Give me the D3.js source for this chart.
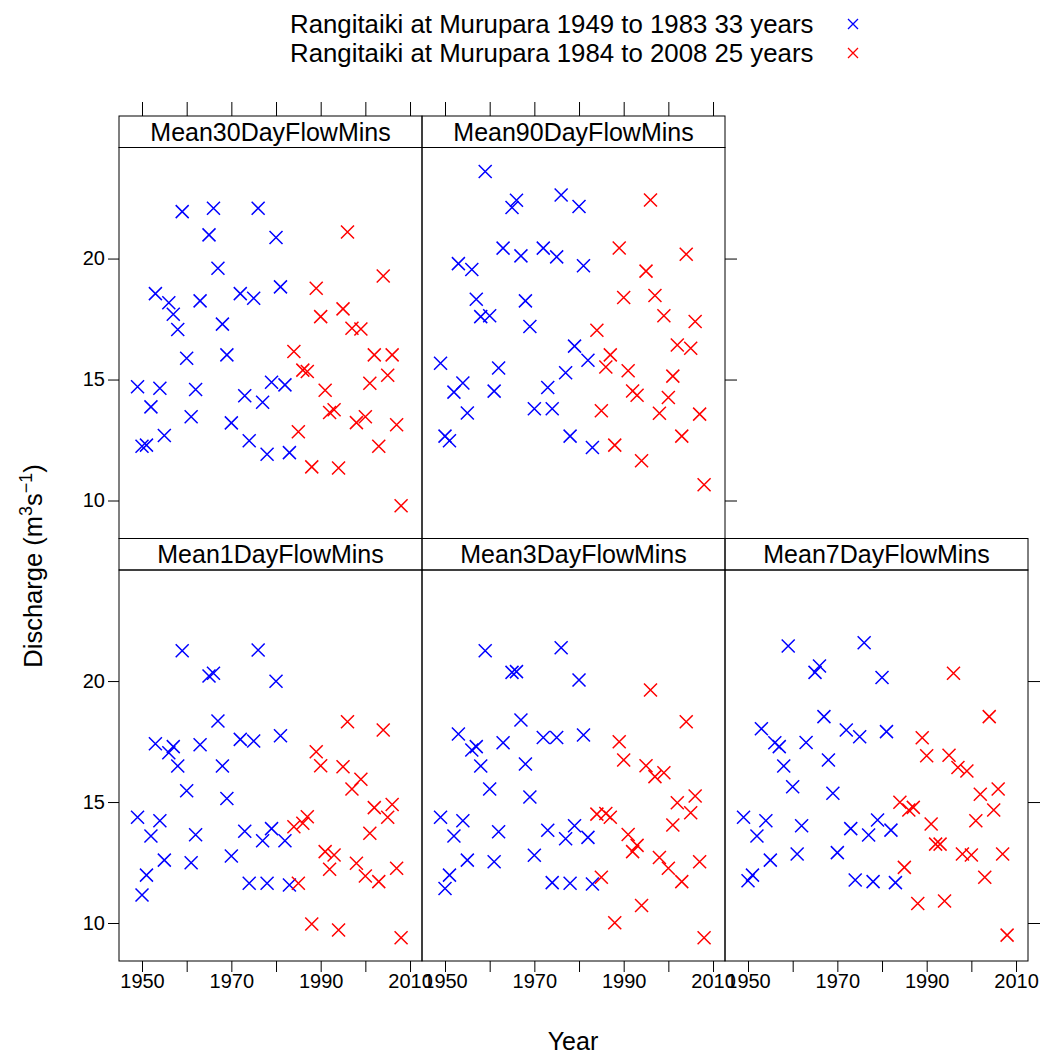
<html>
<head>
<meta charset="utf-8">
<style>
  body { margin: 0; background: #fff; }
  text { font-family: "Liberation Sans", Arial, sans-serif; fill: #000; }
  .frame { fill: none; stroke: #000; stroke-width: 1px; }
  .tick line { stroke: #000; }
</style>
</head>
<body>
<script src="https://d3js.org/d3.v7.min.js"></script>
<script>
// years of each period
var yearsEarly = [1949,1950,1951,1952,1953,1954,1955,1956,1957,1958,1959,1960,1961,1962,1963,
                  1965,1966,1967,1968,1969,1970,1972,1973,1974,1975,1976,1977,1978,1979,1980,1981,1982,1983];
var yearsLate = d3.range(1984, 2009);

var seriesNames = ["Rangitaiki at Murupara 1949 to 1983 33 years",
                   "Rangitaiki at Murupara 1984 to 2008 25 years"];
var seriesColors = ["#0000ff", "#ff0000"];

// panel order as drawn: bottom row left to right, then top row
var panelNames = ["Mean1DayFlowMins", "Mean3DayFlowMins", "Mean7DayFlowMins",
                  "Mean30DayFlowMins", "Mean90DayFlowMins"];

// discharge values (m3/s), early period
var early1  = [14.37,11.16,11.98,13.60,17.41,14.23,12.60,17.04,17.29,16.49,21.25,15.47,12.49,13.65,17.37,
               20.21,20.32,18.35,16.49,15.15,12.77,17.59,13.79,11.64,17.52,21.28,13.40,11.64,13.90,19.99,17.74,13.40,11.57];
var early3  = [14.37,11.43,11.98,13.60,17.81,14.23,12.60,17.15,17.29,16.49,21.25,15.54,12.53,13.77,17.45,
               20.36,20.39,18.39,16.57,15.21,12.80,17.67,13.83,11.67,17.67,21.38,13.48,11.64,14.02,20.04,17.77,13.54,11.61];
var early7  = [14.37,11.75,11.98,13.60,18.03,14.23,12.60,17.45,17.29,16.49,21.45,15.63,12.85,14.02,17.46,
               20.36,20.62,18.53,16.74,15.36,12.91,17.98,13.90,11.78,17.70,21.58,13.64,11.71,14.26,20.15,17.91,13.84,11.67];
var early30 = [14.70,12.24,12.29,13.87,18.55,14.64,12.69,18.17,17.70,17.07,21.94,15.88,13.46,14.59,18.25,
               20.98,22.08,19.60,17.29,16.02,13.21,18.55,14.33,12.47,18.36,22.08,14.06,11.91,14.89,20.87,18.83,14.78,11.98];
var early90 = [15.67,12.66,12.47,14.48,19.79,14.86,13.62,19.55,18.32,17.60,23.60,17.64,14.52,15.48,20.43,
               22.11,22.41,20.11,18.25,17.19,13.79,20.43,14.67,13.79,20.07,22.63,15.28,12.66,16.38,22.15,19.70,15.80,12.19];

// discharge values (m3/s), late period
var late1  = [13.98,11.64,14.12,14.39,9.96,17.08,16.50,12.95,12.22,12.81,9.71,16.46,18.32,
              15.54,12.47,15.94,11.94,13.71,14.77,11.71,17.98,14.37,14.90,12.26,9.39];
var late3  = [14.50,11.89,14.53,14.37,10.01,17.49,16.74,13.66,12.95,13.21,10.72,16.50,19.63,
              16.05,12.71,16.21,12.26,14.05,14.97,11.71,18.32,14.56,15.25,12.53,9.39];
var late7  = [14.99,12.30,14.67,14.78,10.81,17.66,16.91,14.09,13.26,13.26,10.91,16.93,20.32,
              16.43,12.85,16.28,12.81,14.23,15.32,11.89,18.53,14.67,15.54,12.85,9.50];
var late30 = [16.16,12.84,15.39,15.33,11.39,18.77,17.60,14.56,13.64,13.75,11.34,17.92,21.10,
              17.12,13.22,17.09,13.46,14.85,16.02,12.24,19.28,15.18,16.02,13.13,9.78];
var late90 = [17.04,13.71,15.52,16.02,12.29,20.44,18.39,15.36,14.53,14.35,11.64,19.48,22.42,
              18.47,13.61,17.64,14.26,15.14,16.43,12.66,20.18,16.29,17.40,13.57,10.65];

var earlyValues = [early1, early3, early7, early30, early90];
var lateValues  = [late1, late3, late7, late30, late90];

var xTicks = [1950, 1960, 1970, 1980, 1990, 2000, 2010];
var xLabels = [1950, 1970, 1990, 2010];
var yTicks = [10, 15, 20];

var W = 1046, H = 1055;
var svg = d3.select("body").append("svg").attr("width", W).attr("height", H);

var colX = [119, 422, 725], panelW = 303;
var rowTop = [538.5, 116];      // strip top of bottom row, top row
var stripH = 31.5, panelH = 391;

var x = d3.scaleLinear().domain([1944.85, 2012.68]).range([0, panelW]);
var y = d3.scaleLinear().domain([8.43, 24.59]).range([panelH, 0]);

function cross(s) {
  return "M" + (-s) + "," + (-s) + "L" + s + "," + s + "M" + (-s) + "," + s + "L" + s + "," + (-s);
}

panelNames.forEach(function(name, i) {
  var row = i < 3 ? 0 : 1, col = i % 3;
  var g = svg.append("g")
    .attr("transform", "translate(" + colX[col] + "," + rowTop[row] + ")");

  // strip
  g.append("rect").attr("class", "frame")
    .attr("width", panelW).attr("height", stripH).attr("fill", "#fff");
  g.append("text")
    .attr("x", panelW / 2).attr("y", stripH / 2 + 9)
    .attr("text-anchor", "middle").style("font-size", "25px")
    .text(name);

  var p = g.append("g").attr("transform", "translate(0," + stripH + ")");

  // points
  var pts = [];
  yearsEarly.forEach(function(yr, k) { pts.push({year: yr, v: earlyValues[i][k], s: 0}); });
  yearsLate.forEach(function(yr, k) { pts.push({year: yr, v: lateValues[i][k], s: 1}); });
  p.selectAll("path.pt").data(pts).enter().append("path")
    .attr("class", "pt")
    .attr("transform", function(d) { return "translate(" + x(d.year) + "," + y(d.v) + ")"; })
    .attr("d", cross(6.5))
    .attr("stroke", function(d) { return seriesColors[d.s]; })
    .attr("stroke-width", 1.5).attr("fill", "none");

  p.append("rect").attr("class", "frame").attr("width", panelW).attr("height", panelH);

  // axes
  if (row === 0) {
    var ax = p.append("g").attr("transform", "translate(0," + panelH + ")")
      .call(d3.axisBottom(x).tickValues(xTicks).tickSize(11).tickSizeOuter(0)
        .tickFormat(function(d) { return xLabels.indexOf(d) >= 0 ? d : ""; }));
    ax.select(".domain").remove();
    ax.selectAll("text").style("font-size", "20px").attr("y", 20).attr("dy", "0.35em");
  } else {
    var at = g.append("g")
      .call(d3.axisTop(x).tickValues(xTicks).tickSize(14).tickFormat(""));
    at.select(".domain").remove();
  }
  if (col === 0) {
    var ay = p.append("g")
      .call(d3.axisLeft(y).tickValues(yTicks).tickSize(11).tickFormat(d3.format("d")));
    ay.select(".domain").remove();
    ay.selectAll("text").style("font-size", "20px").attr("x", -14);
  }
  if ((row === 0 && col === 2) || (row === 1 && col === 1)) {
    var ar = p.append("g").attr("transform", "translate(" + panelW + ",0)")
      .call(d3.axisRight(y).tickValues(yTicks).tickSize(12).tickFormat(""));
    ar.select(".domain").remove();
  }
});

// legend
var leg = svg.append("g");
seriesNames.forEach(function(n, i) {
  leg.append("text").attr("x", 290).attr("y", 33 + i * 29)
    .style("font-size", "25.8px").text(n);
  leg.append("path").attr("transform", "translate(853," + (24 + i * 29) + ")")
    .attr("d", cross(5)).attr("stroke", seriesColors[i]).attr("stroke-width", 1.3).attr("fill", "none");
});

// axis titles
svg.append("text").attr("x", 573).attr("y", 1050)
  .attr("text-anchor", "middle").style("font-size", "25px").text("Year");

var yl = svg.append("text")
  .attr("transform", "translate(42,566) rotate(-90)")
  .attr("text-anchor", "middle").style("font-size", "25.5px");
yl.append("tspan").text("Discharge (m");
yl.append("tspan").attr("dy", -10).style("font-size", "18px").text("3");
yl.append("tspan").attr("dy", 10).text("s");
yl.append("tspan").attr("dy", -10).style("font-size", "18px").text("\u22121");
yl.append("tspan").attr("dy", 10).text(")");
</script>
</body>
</html>
